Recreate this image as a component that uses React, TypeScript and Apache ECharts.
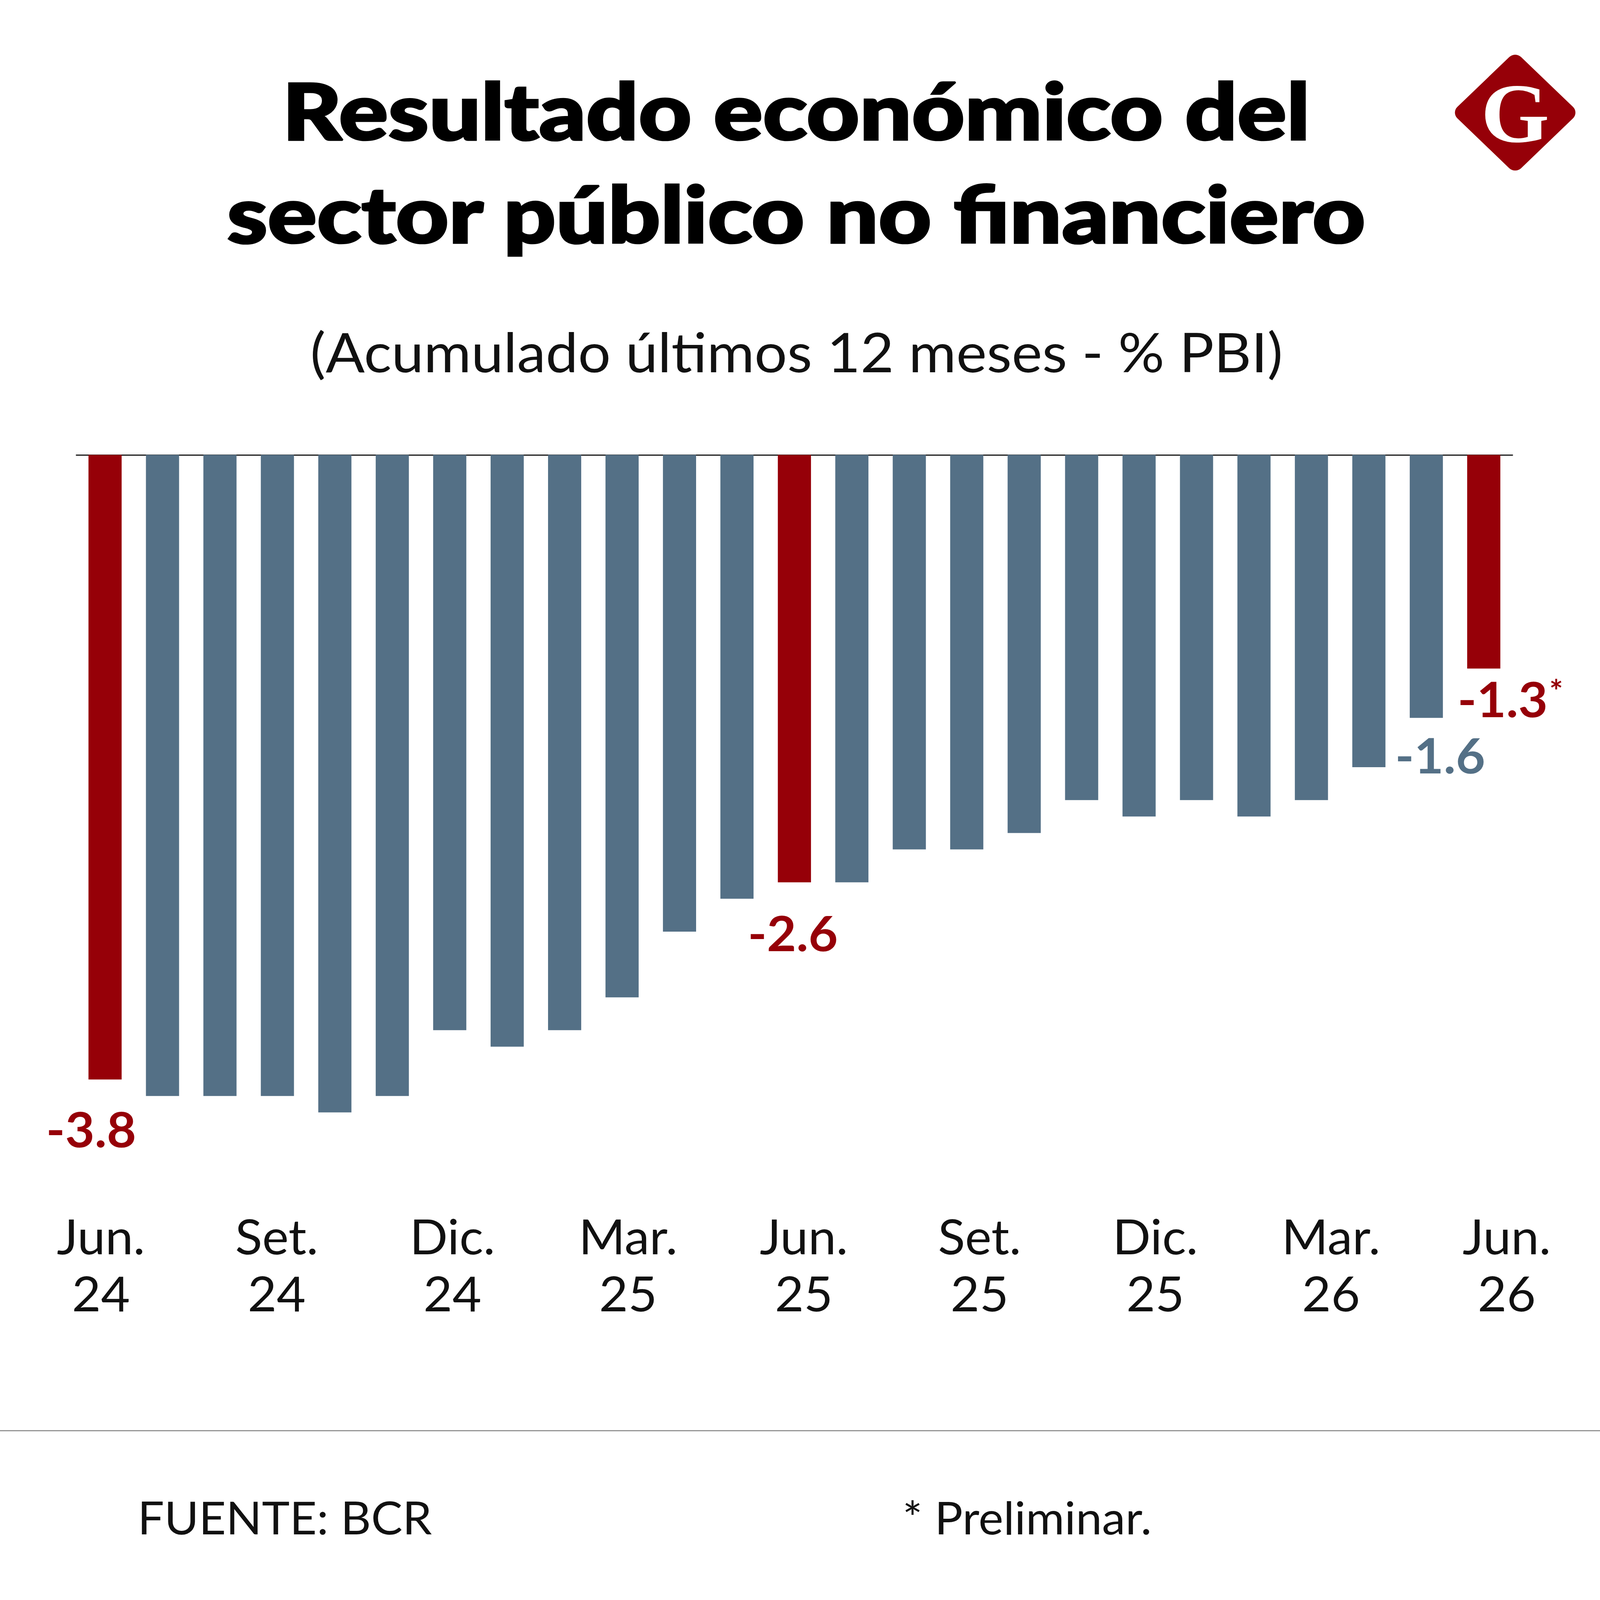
import React, { useEffect, useRef } from "react";
import * as echarts from "echarts";

// ---------- data ----------
const categories = [
  "Jun 24", "Jul 24", "Ago 24", "Set 24", "Oct 24", "Nov 24", "Dic 24",
  "Ene 25", "Feb 25", "Mar 25", "Abr 25", "May 25", "Jun 25", "Jul 25",
  "Ago 25", "Set 25", "Oct 25", "Nov 25", "Dic 25", "Ene 26", "Feb 26",
  "Mar 26", "Abr 26", "May 26", "Jun 26",
];
const values = [
  -3.8, -3.9, -3.9, -3.9, -4.0, -3.9, -3.5, -3.6, -3.5, -3.3, -2.9, -2.7,
  -2.6, -2.6, -2.4, -2.4, -2.3, -2.1, -2.2, -2.1, -2.2, -2.1, -1.9, -1.6, -1.3,
];
const highlighted = ["Jun 24", "Jun 25", "Jun 26"];
const labelledCategories = ["Jun 24", "Jun 25", "May 26", "Jun 26"];
const preliminaryCategories = ["Jun 26"];
const tickMonths = ["Jun.", "Set.", "Dic.", "Mar.", "Jun.", "Set.", "Dic.", "Mar.", "Jun."];
const tickYears = ["24", "24", "24", "25", "25", "25", "25", "26", "26"];

const TITLE_LINES = ["Resultado económico del", "sector público no financiero"];
const SUBTITLE = "(Acumulado últimos 12 meses - % PBI)";
const SOURCE = "FUENTE: BCR";
const NOTE = "* Preliminar.";

// ---------- styles ----------
const DESIGN_W = 4150;
const DESIGN_H = 4319;
const RED = "#960008";
const BLUE = "#547086";
const FONT = "Lato, 'Open Sans', sans-serif";
const labelOffsets: Record<string, [number, number]> = {
  "Jun 24": [-36, 132],
  "Jun 25": [-4, 135],
  "May 26": [36, 99],
  "Jun 26": [69, 80],
};

export default function App() {
  const ref = useRef<HTMLDivElement>(null);
  const vw = typeof window !== "undefined" ? window.innerWidth : DESIGN_W;
  const vh = typeof window !== "undefined" ? window.innerHeight : DESIGN_H;
  const sx = vw / DESIGN_W;
  const sy = vh / DESIGN_H;

  useEffect(() => {
    if (!ref.current) return;
    document.body.style.margin = "0";
    document.body.style.overflow = "hidden";
    document.documentElement.style.overflow = "hidden";
    const chart = echarts.init(ref.current, undefined, { renderer: "svg" });

    const fmt = (v: number) => (v < 0 ? "-" : "") + Math.abs(v).toFixed(1);

    const data = values.map((v, i) => {
      const cat = categories[i];
      const isRed = highlighted.includes(cat);
      const color = isRed ? RED : BLUE;
      const item: any = { value: v, itemStyle: { color } };
      if (labelledCategories.includes(cat)) {
        const isPrelim = preliminaryCategories.includes(cat);
        item.label = {
          show: true,
          position: "bottom",
          distance: 0,
          verticalAlign: "middle",
          align: "center",
          offset: labelOffsets[cat],
          color,
          fontFamily: FONT,
          fontWeight: "bold",
          fontSize: 132,
          lineHeight: 132,
          formatter: isPrelim ? "{a|" + fmt(v) + "}{b|*}" : fmt(v),
          rich: isPrelim
            ? {
                a: { fontFamily: FONT, fontWeight: "bold", fontSize: 132, lineHeight: 132, color },
                b: { fontFamily: FONT, fontWeight: "bold", fontSize: 84, lineHeight: 84, color, verticalAlign: "top", padding: [4, 0, 0, 4] },
              }
            : undefined,
        };
      }
      return item;
    });

    const tickLabels = tickMonths.map((m, i) => m + "\n" + tickYears[i]);

    const titleStyle = (text: string) => ({
      text,
      fontFamily: FONT,
      fontWeight: 900,
      fontSize: 212,
      fill: "#000000",
      stroke: "#000000",
      lineWidth: 5,
      align: "center",
      verticalAlign: "middle",
      textAlign: "center",
      textVerticalAlign: "middle",
    });

    const plainText = (text: string, size: number, align: string) => ({
      text,
      fontFamily: FONT,
      fontSize: size,
      fill: "#111111",
      align,
      verticalAlign: "middle",
      textAlign: align,
      textVerticalAlign: "middle",
    });

    const option: any = {
      animation: false,
      backgroundColor: "#ffffff",
      grid: [
        { left: 198, right: 227, top: 1228, height: 2218.5 },
        { left: 34, right: 14, top: 3100, height: 100 },
      ],
      xAxis: [
        {
          gridIndex: 0,
          type: "category",
          data: categories,
          boundaryGap: true,
          axisLine: { show: true, onZero: true, lineStyle: { color: "#000000", width: 3 } },
          axisTick: { show: false },
          axisLabel: { show: false },
          splitLine: { show: false },
        },
        {
          gridIndex: 1,
          type: "category",
          data: tickLabels,
          boundaryGap: true,
          axisLine: { show: false },
          axisTick: { show: false },
          splitLine: { show: false },
          axisLabel: {
            interval: 0,
            margin: 59,
            fontFamily: FONT,
            fontSize: 130,
            lineHeight: 154,
            color: "#111111",
          },
        },
      ],
      yAxis: [
        { gridIndex: 0, type: "value", min: -5, max: 0, show: false, splitLine: { show: false } },
        { gridIndex: 1, type: "value", min: 0, max: 1, show: false, splitLine: { show: false } },
      ],
      series: [
        {
          type: "bar",
          xAxisIndex: 0,
          yAxisIndex: 0,
          barWidth: 86,
          data,
        },
      ],
      graphic: [
        { type: "text", x: 2065, y: 296, scaleX: 1.125, style: titleStyle(TITLE_LINES[0]) },
        { type: "text", x: 2065, y: 574, scaleX: 1.125, style: titleStyle(TITLE_LINES[1]) },
        { type: "text", x: 2066, y: 948, scaleX: 1.012, style: plainText(SUBTITLE, 148, "center") },
        {
          type: "line",
          shape: { x1: 0, y1: 3862, x2: DESIGN_W, y2: 3862 },
          style: { stroke: "#8c8c8c", lineWidth: 3 },
        },
        { type: "text", x: 357, y: 4094, style: plainText(SOURCE, 122, "left") },
        { type: "text", x: 2341, y: 4094, style: plainText(NOTE, 122, "left") },
        {
          type: "group",
          x: 3930,
          y: 304,
          children: [
            {
              type: "rect",
              rotation: Math.PI / 4,
              shape: { x: -117, y: -117, width: 234, height: 234, r: 22 },
              style: { fill: RED },
            },
            {
              type: "text",
              x: 0,
              y: 2,
              style: {
                text: "G",
                fontFamily: "'Liberation Serif', 'DejaVu Serif', serif",
                fontWeight: "bold",
                fontSize: 228,
                fill: "#ffffff",
                align: "center",
                verticalAlign: "middle",
                textAlign: "center",
                textVerticalAlign: "middle",
              },
            },
          ],
        },
      ],
    };

    chart.setOption(option);
    return () => chart.dispose();
  }, []);

  // The chart is laid out on the reference's 4150x4319 canvas and fitted to the viewport.
  return (
    <div style={{ width: vw, height: vh, overflow: "hidden", background: "#fff" }}>
      <div
        style={{
          width: DESIGN_W,
          height: DESIGN_H,
          transform: `scale(${sx}, ${sy})`,
          transformOrigin: "0 0",
        }}
      >
        <div ref={ref} style={{ width: DESIGN_W, height: DESIGN_H, background: "#fff" }} />
      </div>
    </div>
  );
}
